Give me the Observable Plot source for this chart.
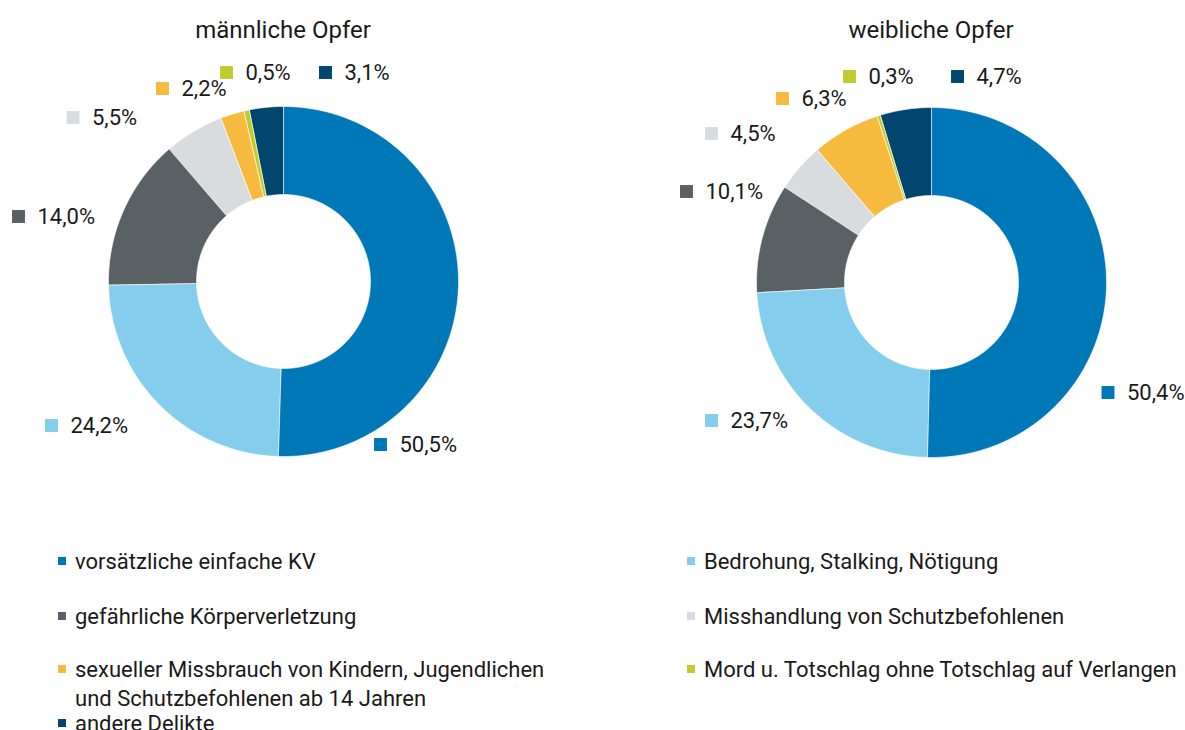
<!DOCTYPE html>
<html><head><meta charset="utf-8">
<script src="https://cdn.jsdelivr.net/npm/d3@7"></script>
<script src="https://cdn.jsdelivr.net/npm/@observablehq/plot@0.6"></script>
<style>
body{margin:0;background:#fff;font-family:Roboto,"Open Sans",sans-serif;color:#1a1a1a;}
#wrap{position:relative;width:1185px;height:730px;overflow:hidden;background:#fff;}
.title{position:absolute;top:15px;width:400px;margin-left:-200px;text-align:center;font-size:24px;line-height:30px;}
#chart{position:absolute;left:0;top:50px;}
.leg{position:absolute;font-size:22px;line-height:29px;padding-left:17px;white-space:nowrap;}
.leg .sw{position:absolute;left:0;top:10.5px;width:8px;height:8px;}
</style></head>
<body><div id="wrap"></div>
<script>
// ---- data ----
const categories = [
  "vorsätzliche einfache KV",
  "Bedrohung, Stalking, Nötigung",
  "gefährliche Körperverletzung",
  "Misshandlung von Schutzbefohlenen",
  "sexueller Missbrauch von Kindern, Jugendlichen und Schutzbefohlenen ab 14 Jahren",
  "Mord u. Totschlag ohne Totschlag auf Verlangen",
  "andere Delikte"
];
const maleShares = [50.5, 24.2, 14.0, 5.5, 2.2, 0.5, 3.1];
const femaleShares = [50.4, 23.7, 10.1, 4.5, 6.3, 0.3, 4.7];
const chartTitles = ["männliche Opfer", "weibliche Opfer"];
const colors = ["#0077b7", "#84cdec", "#596164", "#d9dcdf", "#f6bb3e", "#c2cb2e", "#00466e"];

// ---- layout (page pixels) ----
const centers = [[283, 281], [931, 282]];
const rOuter = 175, rInner = 87;
const maleLabelPos = [[380, 444], [51, 425], [18, 216], [72.5, 117], [162, 88], [226, 72], [325, 72]];
const femaleLabelPos = [[1107.5, 392], [711, 420], [686, 191], [711, 133], [782, 98], [849, 76], [957, 76]];
const legendPos = [[58, 561], [687, 561], [58, 616], [687, 616], [58, 669], [687, 669], [58, 723]];
const svgTop = 50, svgHeight = 480;

const fmt = v => d3.format(".1f")(v).replace(".", ",") + "%";

function slicePoints(shares, ci) {
  const [cx, cy] = centers[ci];
  const total = d3.sum(shares);
  const pts = [];
  let acc = 0;
  shares.forEach((v, i) => {
    const a0 = acc / total * 2 * Math.PI, a1 = (acc + v) / total * 2 * Math.PI;
    acc += v;
    const n = Math.max(2, Math.ceil((a1 - a0) / (Math.PI / 360)));
    const id = ci + "-" + i;
    for (let k = 0; k <= n; k++) {
      const a = a0 + (a1 - a0) * k / n;
      pts.push({id, cat: categories[i], x: cx + rOuter * Math.sin(a), y: cy - rOuter * Math.cos(a)});
    }
    for (let k = n; k >= 0; k--) {
      const a = a0 + (a1 - a0) * k / n;
      pts.push({id, cat: categories[i], x: cx + rInner * Math.sin(a), y: cy - rInner * Math.cos(a)});
    }
  });
  return pts;
}

const pts = slicePoints(maleShares, 0).concat(slicePoints(femaleShares, 1));
const labels = [];
maleShares.forEach((v, i) => labels.push({cat: categories[i], x: maleLabelPos[i][0], y: maleLabelPos[i][1], text: fmt(v)}));
femaleShares.forEach((v, i) => labels.push({cat: categories[i], x: femaleLabelPos[i][0], y: femaleLabelPos[i][1], text: fmt(v)}));

const wrap = document.getElementById("wrap");

chartTitles.forEach((t, i) => {
  const d = document.createElement("div");
  d.className = "title";
  d.style.left = centers[i][0] + "px";
  d.textContent = t;
  wrap.appendChild(d);
});

const plot = Plot.plot({
  width: 1185,
  height: svgHeight,
  margin: 0,
  x: {domain: [0, 1185], range: [0, 1185], axis: null},
  y: {domain: [svgTop, svgTop + svgHeight], range: [0, svgHeight], axis: null},
  color: {domain: categories, range: colors},
  style: {fontFamily: "Roboto, sans-serif", background: "white", color: "#1a1a1a"},
  marks: [
    Plot.line(pts, {x: "x", y: "y", z: "id", fill: "cat", stroke: "white", strokeWidth: 0.6, curve: "linear-closed"}),
    Plot.dot(labels, {x: "x", y: "y", fill: "cat", symbol: "square", r: 7.3}),
    Plot.text(labels, {x: "x", y: "y", dx: 19, text: "text", textAnchor: "start", fontSize: 22, fill: "#1a1a1a"})
  ]
});
plot.id = "chart";
wrap.appendChild(plot);

categories.forEach((c, i) => {
  const d = document.createElement("div");
  d.className = "leg";
  d.style.left = legendPos[i][0] + "px";
  d.style.top = (legendPos[i][1] - 14.5) + "px";
  const sw = document.createElement("span");
  sw.className = "sw";
  sw.style.background = colors[i];
  d.appendChild(sw);
  const parts = c.split(" und ");
  if (i === 4 && parts.length === 2) {
    d.appendChild(document.createTextNode(parts[0]));
    d.appendChild(document.createElement("br"));
    d.appendChild(document.createTextNode("und " + parts[1]));
  } else {
    d.appendChild(document.createTextNode(c));
  }
  wrap.appendChild(d);
});
</script>
</body></html>
